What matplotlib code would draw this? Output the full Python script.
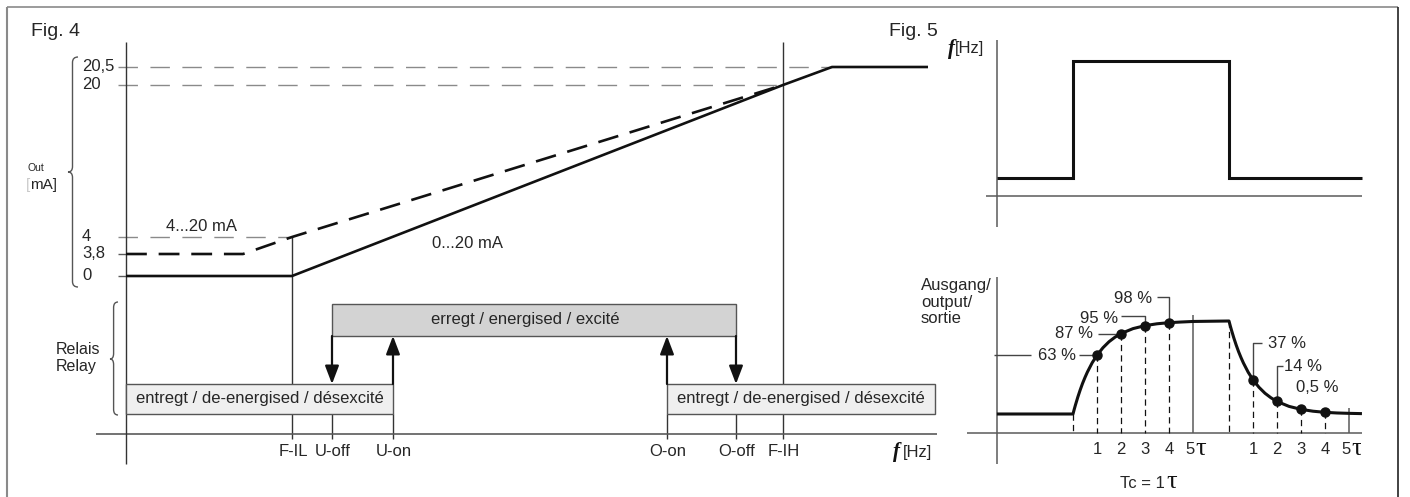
import numpy as np
import matplotlib
matplotlib.use("Agg")
import matplotlib.pyplot as plt
from matplotlib.patches import Rectangle, PathPatch
from matplotlib.path import Path
from matplotlib.lines import Line2D
from matplotlib.transforms import Bbox

plt.rcParams['font.family'] = ['Liberation Sans', 'DejaVu Sans']
plt.rcParams['lines.scale_dashes'] = False
plt.rcParams['lines.solid_capstyle'] = 'butt'

W, H, DPI = 1410, 497, 100

# ---------------- Fig. 4 data (frequency in arbitrary units, output in mA) -------------
freq_marks = ['F-IL', 'U-off', 'U-on', 'O-on', 'O-off', 'F-IH']
freq_vals = [16.6, 20.6, 26.7, 54.1, 61.0, 65.7]
ma_ticks = [0, 3.8, 4, 20, 20.5]
ma_tick_labels = ['0', '3,8', '4', '20', '20,5']
ma_tick_height = [15.8, 18.0, 19.7, 34.9, 36.7]      # schematic (non-linear) placement
solid_f = [0, 16.6, 65.7, 70.6, 80.2]                # 0...20 mA output
solid_ma = [0, 0, 20, 20.5, 20.5]
dashed_f = [0, 11.7, 16.6, 65.7]                     # 4...20 mA output
dashed_ma = [3.8, 3.8, 4, 20]
relay_states = ['entregt / de-energised / désexcité', 'erregt / energised / excité',
                'entregt / de-energised / désexcité']
relay_spans = [(0, 26.7), (20.6, 61.0), (54.1, 80.9)]  # (from f, to f)
relay_level = [0, 1, 0]

# ---------------- Fig. 5 data (time in tau) -------------
step_t = [-3.17, 0, 0, 6.5, 6.5, 12.04]
step_f = [10, 10, 75, 75, 10, 10]
t_fall = 6.5
rise_t = [0, 0.05, 0.1, 0.2, 0.3, 0.4, 0.5, 0.6, 0.8, 1.0, 1.25, 1.5, 1.75, 2.0, 2.5, 3.0, 3.5, 4.0, 4.5, 5.0]
rise_v = [0, 0.049, 0.095, 0.181, 0.259, 0.330, 0.393, 0.451, 0.551, 0.632, 0.713, 0.777, 0.826,
          0.865, 0.918, 0.950, 0.970, 0.982, 0.989, 0.995]
fall_dt = [0, 0.05, 0.1, 0.2, 0.3, 0.4, 0.5, 0.6, 0.8, 1.0, 1.25, 1.5, 1.75, 2.0, 2.5, 3.0, 3.5, 4.0, 4.5, 5.0, 5.54]
fall_v = [1.0, 0.951, 0.905, 0.819, 0.741, 0.670, 0.607, 0.549, 0.449, 0.368, 0.287, 0.223, 0.174,
          0.135, 0.082, 0.050, 0.030, 0.018, 0.011, 0.007, 0.004]
pt_t = [1, 2, 3, 4]
rise_pt_v = [0.632, 0.865, 0.950, 0.982]
fall_pt_v = [0.368, 0.135, 0.050, 0.018]
rise_labels = ['63 %', '87 %', '95 %', '98 %']
fall_labels = ['37 %', '14 %', '0,5 %']
tick_labels = ['1', '2', '3', '4', '5']

TXT = '#262626'
GREY = '#8a8a8a'
AX = '#5a5a5a'

fig = plt.figure(figsize=(W / DPI, H / DPI), dpi=DPI)


def ftext(x, y, s, **kw):
    kw.setdefault('color', TXT)
    kw.setdefault('fontsize', 12)
    return fig.text(x / W, 1 - y / H, s, **kw)


def fline(xs, ys, **kw):
    fig.add_artist(Line2D([x / W for x in xs], [1 - y / H for y in ys], **kw))


# frame
fline([7, 7], [497, 7], color=GREY, lw=1.5)
fline([7, 1398], [7, 7], color=GREY, lw=1.2)
fline([1398, 1398], [7, 497], color='#222222', lw=1.2)

ftext(31, 32, 'Fig. 4', fontsize=14, va='center', ha='left')
ftext(889, 32, 'Fig. 5', fontsize=14, va='center', ha='left')

# ============================ Fig. 4 ============================
ax4 = fig.add_axes([0, 0, 1, 1])
ax4.set_xlim(-12.6, 128.4)
ax4.set_ylim(-6.3, 43.4)
ax4.axis('off')


def to_h(ma):
    return np.interp(ma, ma_ticks, ma_tick_height)


# axes
ax4.plot([-3.0, 81.1], [0, 0], color=AX, lw=1.2, zorder=2)
ax4.plot([0, 0], [39.2, -3.0], color='#333333', lw=1.0, zorder=2)
# reference dashed lines and ticks
ref_end = {20.5: 70.6, 20: freq_vals[5], 4: freq_vals[0]}
for ma, h, lab in zip(ma_ticks, ma_tick_height, ma_tick_labels):
    if ma in ref_end:
        ax4.plot([-0.8, ref_end[ma]], [h, h], color=GREY, lw=1.0, dashes=(14, 9), zorder=1)
    else:
        ax4.plot([-0.8, 0], [h, h], color=AX, lw=1.0, zorder=1)
    ax4.text(-4.4, h, lab, ha='left', va='center', fontsize=12, color=TXT)

# vertical frequency lines
ax4.plot([freq_vals[0]] * 2, [to_h(4), -0.5], color='#333333', lw=1.0, zorder=1)
ax4.plot([freq_vals[5]] * 2, [39.2, -0.5], color='#333333', lw=1.0, zorder=1)
for fv in freq_vals[1:5]:
    ax4.plot([fv, fv], [2.0, -0.5], color='#333333', lw=1.0, zorder=1)
for fv, lab in zip(freq_vals, freq_marks):
    ax4.text(fv + 0.1, -1.8, lab, ha='center', va='center', fontsize=12, color=TXT)
ax4.text(76.7, -1.8, 'f', family=['Liberation Serif', 'DejaVu Serif'], style='italic',
         weight='bold', fontsize=15, ha='left', va='center', color='#111111')
ax4.text(77.7, -1.8, '[Hz]', ha='left', va='center', fontsize=12, color=TXT)

# output curves
ax4.plot(solid_f, to_h(solid_ma), color='#111111', lw=1.9, zorder=4,
         solid_joinstyle='miter')
ax4.plot(dashed_f, to_h(dashed_ma), color='#111111', lw=1.9, dashes=(15, 8.5), zorder=4)
ax4.text(7.55, 20.7, '4...20 mA', ha='center', va='center', fontsize=12, color=TXT)
ax4.text(34.1, 19.0, '0...20 mA', ha='center', va='center', fontsize=12, color=TXT)

# relay boxes
box_y = {0: (2.0, 5.0), 1: (9.8, 13.0)}
box_fc = {0: '#efefef', 1: '#d3d3d3'}
text_x = [None, 39.9, None]
for (f0, f1), lev, lab, tx in zip(relay_spans, relay_level, relay_states, text_x):
    y0, y1 = box_y[lev]
    ax4.add_patch(Rectangle((f0, y0), f1 - f0, y1 - y0, facecolor=box_fc[lev],
                            edgecolor='#555555', lw=1.0, zorder=3))
    cx = (f0 + f1) / 2 if tx is None else tx
    ax4.text(cx, (y0 + y1) / 2, lab, ha='center', va='center', fontsize=12,
             color=TXT, zorder=5)

# switching arrows
arrow_kw = dict(arrowstyle='-|>,head_length=1.1,head_width=0.42', mutation_scale=10,
                lw=1.6, color='#111111', shrinkA=0, shrinkB=0)
for fv, up in zip(freq_vals[1:5], [False, True, True, False]):
    a, b = (5.0, 9.8) if up else (9.8, 5.0)
    ax4.annotate('', xy=(fv, b), xytext=(fv, a), arrowprops=arrow_kw, zorder=6)


def brace(ax, xr, xt, top, bot, tip, r=0.55):
    xm = xr - 0.55 * (xr - xt)
    verts = [(xr, top), (xm, top), (xm, top - r),
             (xm, tip + r),
             (xm, tip), (xt, tip),
             (xm, tip), (xm, tip - r),
             (xm, bot + r),
             (xm, bot), (xr, bot)]
    codes = [Path.MOVETO, Path.CURVE3, Path.CURVE3, Path.LINETO, Path.CURVE3, Path.CURVE3,
             Path.CURVE3, Path.CURVE3, Path.LINETO, Path.CURVE3, Path.CURVE3]
    ax.add_patch(PathPatch(Path(verts, codes), facecolor='none', edgecolor='#555555', lw=1.0))


brace(ax4, -4.8, -5.8, 37.7, 14.7, 26.2)
brace(ax4, -0.8, -1.6, 13.2, 1.9, 7.5)
ax4.text(-9.83, 26.6, 'Out', fontsize=7.5, ha='left', va='center', color=TXT)
ax4.text(-10.0, 24.9, '[', fontsize=11, ha='left', va='center', color='#c8c8c8')
ax4.text(-9.6, 24.9, 'mA]', fontsize=11, ha='left', va='center', color=TXT)
ax4.text(-7.0, 8.5, 'Relais', fontsize=11.5, ha='left', va='center', color=TXT)
ax4.text(-7.0, 6.7, 'Relay', fontsize=11.5, ha='left', va='center', color=TXT)

# ============================ Fig. 5 top ============================
XL5 = (-44.708, 14.042)
ax5a = fig.add_axes([0, 0, 1, 1])
ax5a.set_xlim(*XL5)
ax5a.set_ylim(-167.22, 108.89)
ax5a.axis('off')
ax5a.plot([-3.625, 12.04], [0, 0], color=AX, lw=1.1)
ax5a.plot([-3.17, -3.17], [86.7, -17.2], color=AX, lw=1.1)
ax5a.plot(step_t, step_f, color='#111111', lw=2.2, solid_joinstyle='miter')
ax5a.text(-5.21, 81.7, 'f', family=['Liberation Serif', 'DejaVu Serif'], style='italic',
          weight='bold', fontsize=15, ha='left', va='center', color='#111111')
ax5a.text(-4.92, 81.7, '[Hz]', ha='left', va='center', fontsize=12, color=TXT)

# ============================ Fig. 5 bottom ============================
ax5b = fig.add_axes([0, 0, 1, 1])
ax5b.set_xlim(*XL5)
ax5b.set_ylim(-0.8925, 4.4516)
ax5b.axis('off')
base = -0.204
ax5b.plot([-4.417, 12.04], [base, base], color=AX, lw=1.1)
ax5b.plot([-3.17, -3.17], [1.473, -0.538], color=AX, lw=1.1)

curve_t = [-3.17] + rise_t + [t_fall] + [t_fall + d for d in fall_dt]
curve_v = [0] + rise_v + [1.0] + fall_v
ax5b.plot(curve_t, curve_v, color='#111111', lw=2.2, zorder=4)

# dashed guides
for t0, v0 in zip([0] + pt_t, [0] + rise_pt_v):
    ax5b.plot([t0, t0], [v0, base], color='#111111', lw=0.9, dashes=(4.5, 3.0), zorder=2)
for t0, v0 in zip([0] + pt_t, [1.0] + fall_pt_v):
    ax5b.plot([t_fall + t0] * 2, [v0, base], color='#111111', lw=0.9, dashes=(4.5, 3.0), zorder=2)
ax5b.plot([5, 5], [1.065, base], color=AX, lw=1.1)
ax5b.plot([t_fall + 5] * 2, [0.065, base], color=AX, lw=1.1)
ax5b.plot(pt_t, rise_pt_v, 'o', color='#111111', ms=6.5, zorder=5)
ax5b.plot([t_fall + t for t in pt_t], fall_pt_v, 'o', color='#111111', ms=6.5, zorder=5)

# tick labels
clip = Bbox.from_extents(0, 0, 1361, H)
for off in (0, t_fall):
    for t0, lab in zip(pt_t + [5], tick_labels):
        ax5b.text(off + t0 - (0.12 if lab == '5' else 0), -0.387, lab, ha='center',
                  va='center', fontsize=12, color=TXT)
    tt = ax5b.text(off + 5.12, -0.38, 'τ', family=['Liberation Serif', 'DejaVu Serif'],
                   fontsize=19, ha='left', va='center', color='#111111')
    tt.set_clip_box(clip)
    tt.set_clip_on(True)
ax5b.text(3.83, -0.742, 'Tc = 1', ha='right', va='center', fontsize=12, color=TXT)
ax5b.text(3.88, -0.735, 'τ', family=['Liberation Serif', 'DejaVu Serif'], fontsize=19,
          ha='left', va='center', color='#111111')

# percentage labels and leaders
LC = '#444444'
rise_lab_pos = [(-0.667, 0.632), (0.06, 0.865), (1.1, 1.032), (2.52, 1.237)]
for (x, y), lab in zip(rise_lab_pos, rise_labels):
    ax5b.text(x, y, lab, ha='center', va='center', fontsize=12, color=TXT)
ax5b.plot([-3.29, -1.75], [0.632, 0.632], color=LC, lw=1.0)
ax5b.plot([0.25, 1], [0.632, 0.632], color=LC, lw=1.0)
ax5b.plot([1.04, 2], [0.865, 0.865], color=LC, lw=1.0)
ax5b.plot([2.0, 3, 3], [1.054, 1.054, 0.95], color=LC, lw=1.0)
ax5b.plot([3.5, 4, 4], [1.258, 1.258, 0.982], color=LC, lw=1.0)

fall_lab_pos = [(8.9, 0.753), (9.6, 0.516), (10.17, 0.28)]
for (x, y), lab in zip(fall_lab_pos, fall_labels):
    ax5b.text(x, y, lab, ha='center', va='center', fontsize=12, color=TXT)
ax5b.plot([t_fall + 1.375, t_fall + 1, t_fall + 1], [0.763, 0.763, 0.368], color=LC, lw=1.0)
ax5b.plot([t_fall + 2.25, t_fall + 2, t_fall + 2], [0.516, 0.516, 0.135], color=LC, lw=1.0)
ax5b.plot([t_fall + 3, t_fall + 3], [0.086, 0.05], color=LC, lw=1.0)

for y, s in zip([1.387, 1.204, 1.022], ['Ausgang/', 'output/', 'sortie']):
    ax5b.text(-6.33, y, s, ha='left', va='center', fontsize=12, color=TXT)

fig.savefig('out.png', dpi=DPI)
